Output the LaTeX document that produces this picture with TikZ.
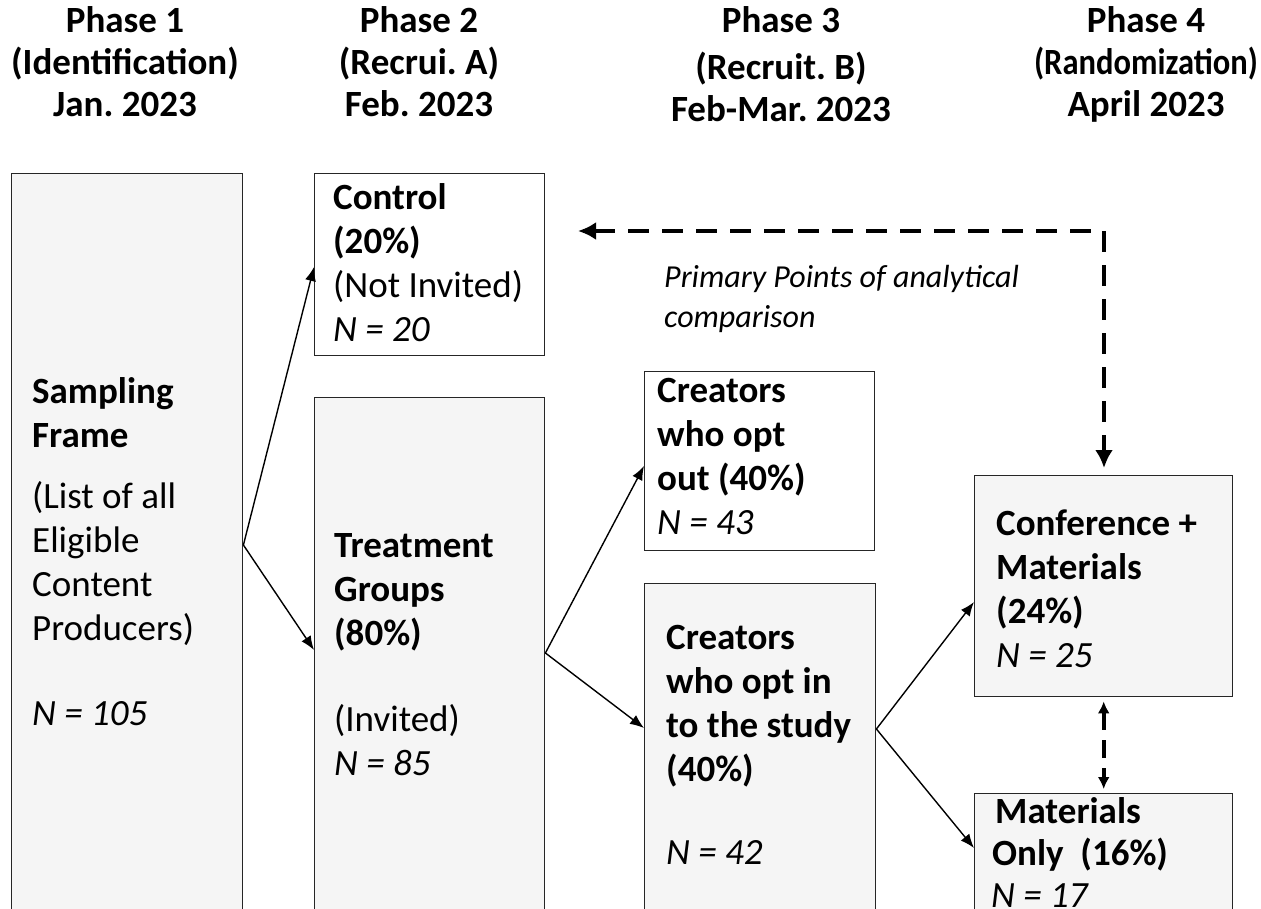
\documentclass[tikz,border=0pt]{standalone}
\usepackage{graphicx}
\usepackage{fontspec}
\setmainfont{Carlito}
\usetikzlibrary{calc,arrows.meta,positioning}
\definecolor{boxgray}{HTML}{F5F5F5}
\frenchspacing

\begin{document}
\begin{tikzpicture}[x=1pt, y=-1pt, >={Latex[length=14pt,width=11pt]},
  box/.style={draw=black!85, line width=1.4pt, anchor=north west, inner sep=0pt},
  graybox/.style={box, fill=boxgray},
  txt/.style={anchor=north west, inner sep=0pt, align=left, font=\fontsize{37}{44}\selectfont},
  head/.style={anchor=north, inner sep=0pt, align=center, font=\fontsize{37}{42}\selectfont\bfseries},
  link/.style={->, line width=1.4pt},
  cmp/.style={line width=4pt, dash pattern=on 21pt off 13pt, {Latex[length=18pt,width=18pt]}-{Latex[length=18pt,width=18pt]}}]

  \useasboundingbox (0,0) rectangle (1261,908);
  \clip (0,0) rectangle (1261,908);

  % phase headers
  \node[head] (ph1) at (125,6)  {Phase 1\\(Identification)\\Jan. 2023};
  \node[head] (ph2) at (419,6)  {Phase 2\\(Recrui. A)\\Feb. 2023};
  \node[head] (ph3) at (781,6)  {Phase 3\\[5pt](Recruit. B)\\Feb-Mar. 2023};
  \node[head] (ph4) at (1146,6) {Phase 4\\\scalebox{0.88}[1]{(Randomization)}\\April 2023};

  % boxes
  \node[graybox, minimum width=231pt, minimum height=760pt] (sf)      at (11,173)  {};
  \node[box, fill=white, minimum width=230pt, minimum height=182pt] (ctrl) at (314,173) {};
  \node[graybox, minimum width=230pt, minimum height=540pt] (treat)   at (314,397) {};
  \node[box, fill=white, minimum width=230pt, minimum height=179pt] (optout) at (644,371) {};
  \node[graybox, minimum width=231pt, minimum height=350pt] (optin)   at (644,583) {};
  \node[graybox, minimum width=258pt, minimum height=221pt] (conf)    at (974,475) {};
  \node[graybox, minimum width=258pt, minimum height=140pt] (matonly) at (974,793) {};

  % box texts
  \node[txt] (sftext) at (32,377) {\textbf{Sampling}\\\textbf{Frame}\\[17pt](List of all\\Eligible\\Content\\Producers)\\[41pt]\textit{N = 105}};
  \node[txt] (ctrltext) at (333,183) {\textbf{Control}\\\textbf{(20\%)}\\(Not Invited)\\\textit{N = 20}};
  \node[txt] (treattext) at (334,533) {\textbf{Treatment}\\\textbf{Groups}\\\textbf{(80\%)}\\[42pt](Invited)\\\textit{N = 85}};
  \node[txt] (optouttext) at (657,378) {\textbf{Creators}\\\textbf{who opt}\\\textbf{out (40\%)}\\\textit{N = 43}};
  \node[txt] (optintext) at (666,625) {\textbf{Creators}\\\textbf{who opt in}\\\textbf{to the study}\\\textbf{(40\%)}\\[39pt]\textit{N = 42}};
  \node[txt] (conftext) at (996,510) {\textbf{Conference +}\\\textbf{Materials}\\\textbf{(24\%)}\\\textit{N = 25}};
  \node[txt, font=\fontsize{37}{42}\selectfont] (mattext) at (991,797) {\hspace{4pt}\textbf{Materials}\\\hspace{1pt}\textbf{Only\ \ (16\%)}\\\textit{N = 17}};

  \node[anchor=north west, inner sep=0pt, align=left, font=\fontsize{32}{40}\selectfont\itshape] (note) at (664,265) {Primary Points of analytical\\comparison};

  % connector ends
  \coordinate (sfout)    at ($(sf.north east)+(0,372)$);
  \coordinate (ctrlin)   at ($(ctrl.north west)+(0,94)$);
  \coordinate (treatin)  at ($(treat.north west)+(0,253)$);
  \coordinate (treatout) at ($(treat.north east)+(0,256)$);
  \coordinate (optoutin) at ($(optout.north west)+(0,95)$);
  \coordinate (optinin)  at ($(optin.north west)+(0,145)$);
  \coordinate (optinout) at ($(optin.north east)+(0,146)$);
  \coordinate (confin)   at ($(conf.north west)+(0,127)$);
  \coordinate (matin)    at ($(matonly.north west)+(0,55)$);
  \coordinate (corner)   at (1104,231);
  \coordinate (cmpend)   at (578,231);

  \path[link]
    (sfout)    edge (ctrlin)
               edge (treatin)
    (treatout) edge (optoutin)
               edge (optinin)
    (optinout) edge (confin)
               edge (matin);

  \draw[cmp, shorten >=7pt] (cmpend) -- (corner) -- (corner |- conf.north);
  \draw[cmp, dash pattern=on 18pt off 10pt, shorten >=4pt, shorten <=4pt,
        {Latex[length=12pt,width=12pt]}-{Latex[length=12pt,width=12pt]}]
        (conf.south) -- (matonly.north);
\end{tikzpicture}
\end{document}
